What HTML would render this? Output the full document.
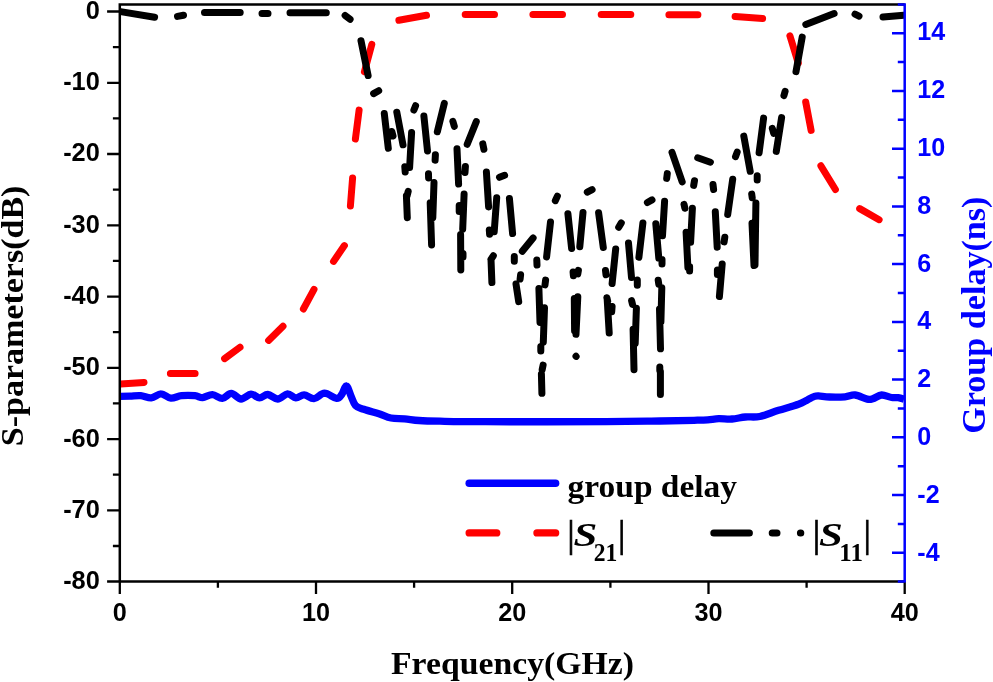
<!DOCTYPE html>
<html lang="en"><head><meta charset="utf-8"><title>S-parameters and group delay</title>
<style>html,body{margin:0;padding:0;background:#fff}svg{display:block}.ax{font-family:"Liberation Sans",Arial,sans-serif;font-weight:bold;font-size:25.2px}.ti{font-family:"Liberation Serif","Times New Roman",serif;font-weight:bold}</style></head><body>
<svg width="993" height="682" viewBox="0 0 993 682">
<rect width="993" height="682" fill="#fff"/>
<clipPath id="cp"><rect x="119.8" y="4.4" width="784.9000000000001" height="577.2"/></clipPath><g clip-path="url(#cp)">
<path d="M120.0,396.3C121.7,396.3 126.5,396.3 130.0,396.2C133.4,396.1 137.1,395.4 140.7,395.7C144.2,396.0 147.9,398.2 151.3,397.9C154.7,397.6 157.8,393.8 161.1,393.9C164.4,393.9 167.5,397.9 170.9,398.2C174.3,398.5 177.5,396.1 181.5,395.7C185.5,395.3 191.5,395.4 195.0,395.7C198.5,396.0 199.7,397.8 202.6,397.6C205.5,397.4 209.1,394.5 212.4,394.6C215.7,394.7 219.2,398.6 222.3,398.4C225.5,398.2 228.2,393.3 231.3,393.4C234.4,393.5 237.8,398.9 241.1,399.0C244.4,399.1 247.9,394.4 251.0,394.2C254.1,394.0 256.7,397.8 259.5,397.9C262.3,397.9 264.8,394.3 267.8,394.5C270.8,394.7 274.4,399.1 277.7,399.0C281.0,398.9 284.5,394.1 287.5,393.9C290.5,393.7 293.0,397.7 295.8,397.9C298.6,398.1 301.1,394.8 304.1,394.9C307.1,395.0 310.5,399.0 313.9,398.7C317.3,398.4 320.7,393.2 324.5,393.1C328.3,393.1 333.7,398.2 336.6,398.4C339.5,398.6 340.3,396.3 341.9,394.2C343.5,392.1 344.9,385.6 346.4,385.9C347.9,386.1 349.4,392.4 350.9,395.7C352.4,399.0 353.4,403.2 355.5,405.5C357.6,407.8 359.9,407.9 363.8,409.3C367.7,410.7 374.4,412.4 378.9,413.8C383.4,415.2 386.7,417.2 391.0,418.0C395.3,418.8 399.8,418.4 404.5,418.8C409.2,419.2 413.1,420.1 419.0,420.5C424.9,420.9 428.9,421.0 440.0,421.2C451.1,421.4 457.9,421.6 485.6,421.7C513.3,421.8 576.9,421.8 606.0,421.7C635.1,421.6 645.3,421.2 660.0,421.0C674.7,420.8 686.0,420.5 694.0,420.3C702.0,420.1 703.6,420.1 707.7,419.8C711.8,419.5 714.8,418.8 718.8,418.7C722.8,418.6 727.6,419.3 732.0,419.0C736.4,418.7 740.8,417.4 745.4,417.0C750.0,416.6 754.3,417.6 759.8,416.5C765.3,415.4 772.1,412.3 778.6,410.3C785.1,408.3 793.7,406.0 798.5,404.3C803.3,402.6 804.8,401.2 807.4,399.9C810.0,398.6 812.1,397.3 814.0,396.6C815.9,395.9 815.9,395.8 818.5,395.9C821.1,396.0 825.2,396.9 829.6,397.0C834.0,397.1 840.8,397.1 845.0,396.8C849.2,396.5 851.3,394.6 855.0,395.0C858.7,395.4 864.2,398.6 867.2,399.2C870.2,399.8 870.4,399.5 872.8,398.8C875.2,398.1 878.5,395.2 881.6,395.0C884.7,394.8 888.8,397.1 891.6,397.5C894.4,397.9 896.1,397.4 898.2,397.7C900.3,398.0 903.0,398.9 904.0,399.2" fill="none" stroke="#0000ff" stroke-width="7.3" stroke-linejoin="round" stroke-linecap="butt"/>
<path d="M120.5,384.0L144.0,382.4M170.4,373.6L195.1,373.6M224.6,358.6L240.0,347.2M268.6,340.4L283.0,326.2M303.4,309.0L314.0,289.3M333.5,261.4L344.4,245.6M350.4,206.1L352.6,178.0M355.4,139.0L359.1,110.1M364.4,71.8L371.8,44.3M398.9,20.3L426.5,15.3M465.2,14.6L494.5,14.6M532.9,14.6L562.5,14.6M601.2,14.6L630.8,14.6M668.9,14.8L697.9,14.8M735.1,16.5L762.6,18.6M789.9,35.8L798.3,63.1M805.7,102.0L811.1,130.4M820.9,165.8L835.4,189.5M859.7,208.6L879.1,219.7" fill="none" stroke="#ff0000" stroke-width="7.0" stroke-linecap="round"/>
<path d="M120.5,11.6L154.6,17.2M177.5,16.4L183.5,15.2M204.5,12.4L240.2,12.4M262.0,13.6L268.0,13.6M290.0,12.7L326.3,12.7M345.1,15.4L350.1,19.3M361.0,40.8L368.1,75.5M373.6,93.6L378.7,90.7M384.3,113.6L388.3,148.3M391.8,131.5L393.0,136.0M396.8,112.2L403.0,144.8M411.6,132.5L409.6,167.6M404.8,166.8L405.2,172.0M415.6,105.7L413.9,110.1M423.9,116.1L427.5,151.0M435.4,154.8L435.1,160.2M444.3,103.4L437.3,131.8M428.5,173.8L428.6,178.0M434.0,182.6L432.8,217.7M430.2,202.8L431.6,245.0M408.2,191.4L407.0,196.0M406.4,195.7L407.3,217.7M452.9,121.4L454.3,126.3M476.3,121.6L467.2,144.3M482.8,143.9L483.9,149.2M457.0,148.8L458.6,184.0M465.4,166.5L465.0,172.5M464.1,194.0L462.7,229.2M459.2,205.4L459.2,211.6M460.6,234.5L460.8,269.9M463.0,253.4L463.0,257.0M486.4,172.0L488.6,206.9M499.5,177.3L504.6,175.3M496.7,197.8L494.2,231.8M489.3,230.1L489.6,234.2M509.4,198.4L512.6,233.6M533.1,238.0L522.3,251.3M514.3,256.6L514.3,261.2M536.8,260.1L537.0,265.0M550.5,222.0L546.6,256.9M557.4,196.1L555.3,200.7M567.9,213.7L571.6,248.4M583.0,212.4L579.8,246.7M587.3,192.2L592.1,189.6M598.6,212.8L603.3,247.5M493.3,255.8L491.0,259.4M491.0,259.4L491.9,282.6M520.6,274.8L520.1,279.1M516.0,284.0L518.7,301.6M545.6,280.1L545.0,284.9M538.9,288.4L540.0,322.5M544.5,307.8L543.3,342.1M540.8,346.6L540.8,351.0M543.1,365.1L542.2,369.5M541.4,373.9L541.9,393.3M573.1,272.1L573.4,275.7M578.4,270.4L577.8,273.9M574.3,298.5L574.6,331.0M577.8,296.8L576.0,334.3M576.0,356.3L576.1,356.4M605.5,270.4L606.0,274.8M606.9,297.7L607.7,301.2M607.2,299.5L609.2,333.0M612.1,306.4L611.7,311.7M621.3,222.9L618.7,227.3M615.7,248.9L612.1,283.6M628.5,243.1L631.5,277.4M637.3,280.0L637.3,285.3M642.9,222.9L638.9,257.3M655.8,223.8L658.8,258.1M662.0,259.6L662.0,264.0M631.6,300.6L632.5,304.4M636.4,308.2L635.2,343.3M633.1,329.3L634.0,369.7M658.2,280.3L658.8,284.2M661.8,287.8L660.9,321.8M659.5,309.0L660.5,348.8M659.8,367.1L659.8,370.6M660.4,371.5L660.4,394.4M647.4,202.5L652.0,199.9M672.0,152.3L682.2,181.9M667.3,173.6L666.7,178.4M697.7,157.8L710.4,162.2M694.5,180.7L693.7,185.4M713.0,184.5L713.6,189.5M732.7,179.3L727.7,214.5M737.2,152.1L735.5,156.7M743.8,136.1L750.2,171.3M757.2,175.7L757.2,180.1M751.7,194.1L752.2,197.7M755.9,203.0L755.0,264.9M752.0,223.3L754.0,265.5M664.6,201.3L662.5,235.7M684.0,204.3L684.9,208.3M692.4,208.3L690.6,242.3M686.1,232.2L687.9,267.5M689.6,266.6L689.6,271.0M715.3,211.8L717.2,247.2M724.8,237.2L724.1,241.9M722.2,264.0L719.4,296.6M717.4,270.1L717.4,274.5M781.6,117.6L776.3,151.4M772.3,128.4L773.7,133.4M763.6,118.1L759.1,152.8M785.1,91.3L783.9,95.7M802.2,37.1L796.0,71.6M805.8,24.4L834.1,13.6M855.0,14.2L859.0,16.2M883.0,17.0L903.8,15.3" fill="none" stroke="#000000" stroke-width="7.0" stroke-linecap="round"/>
</g>
<path d="M119.8,581.6L119.8,4.4L904.7,4.4" fill="none" stroke="#000" stroke-width="2.5" stroke-linejoin="miter"/>
<path d="M107.1,581.6L904.7,581.6" fill="none" stroke="#000" stroke-width="2.5"/>
<path d="M107.1,11.5L119.8,11.5M112.9,47.1L119.8,47.1M107.1,82.8L119.8,82.8M112.9,118.4L119.8,118.4M107.1,154.0L119.8,154.0M112.9,189.7L119.8,189.7M107.1,225.3L119.8,225.3M112.9,260.9L119.8,260.9M107.1,296.6L119.8,296.6M112.9,332.2L119.8,332.2M107.1,367.8L119.8,367.8M112.9,403.4L119.8,403.4M107.1,439.1L119.8,439.1M112.9,474.7L119.8,474.7M107.1,510.3L119.8,510.3M112.9,546.0L119.8,546.0M119.8,581.6L119.8,593.9M217.9,581.6L217.9,587.8M316.0,581.6L316.0,593.9M414.1,581.6L414.1,587.8M512.2,581.6L512.2,593.9M610.4,581.6L610.4,587.8M708.5,581.6L708.5,593.9M806.6,581.6L806.6,587.8M904.7,581.6L904.7,593.9" fill="none" stroke="#000" stroke-width="2.3"/>
<path d="M904.7,3.2L904.7,582.6M897.8,581.6L904.7,581.6M892,552.7L904.7,552.7M897.8,523.9L904.7,523.9M892,495.0L904.7,495.0M897.8,466.2L904.7,466.2M892,437.3L904.7,437.3M897.8,408.4L904.7,408.4M892,379.6L904.7,379.6M897.8,350.7L904.7,350.7M892,321.9L904.7,321.9M897.8,293.0L904.7,293.0M892,264.1L904.7,264.1M897.8,235.3L904.7,235.3M892,206.4L904.7,206.4M897.8,177.6L904.7,177.6M892,148.7L904.7,148.7M897.8,119.8L904.7,119.8M892,91.0L904.7,91.0M897.8,62.1L904.7,62.1M892,33.3L904.7,33.3M897.8,4.4L904.7,4.4" fill="none" stroke="#0000ff" stroke-width="2.5"/>
<text class="ax" style="font-size:26px" transform="translate(99.8,18.9) scale(0.975,1)" text-anchor="end" fill="#000">0</text>
<text class="ax" style="font-size:26px" transform="translate(99.8,90.2) scale(0.975,1)" text-anchor="end" fill="#000">-10</text>
<text class="ax" style="font-size:26px" transform="translate(99.8,161.4) scale(0.975,1)" text-anchor="end" fill="#000">-20</text>
<text class="ax" style="font-size:26px" transform="translate(99.8,232.7) scale(0.975,1)" text-anchor="end" fill="#000">-30</text>
<text class="ax" style="font-size:26px" transform="translate(99.8,303.9) scale(0.975,1)" text-anchor="end" fill="#000">-40</text>
<text class="ax" style="font-size:26px" transform="translate(99.8,375.2) scale(0.975,1)" text-anchor="end" fill="#000">-50</text>
<text class="ax" style="font-size:26px" transform="translate(99.8,446.5) scale(0.975,1)" text-anchor="end" fill="#000">-60</text>
<text class="ax" style="font-size:26px" transform="translate(99.8,517.7) scale(0.975,1)" text-anchor="end" fill="#000">-70</text>
<text class="ax" style="font-size:26px" transform="translate(99.8,589.0) scale(0.975,1)" text-anchor="end" fill="#000">-80</text>
<text class="ax" style="font-size:26.4px" transform="translate(119.8,621.0) scale(0.955,1)" text-anchor="middle" fill="#000">0</text>
<text class="ax" style="font-size:26.4px" transform="translate(316.0,621.0) scale(0.955,1)" text-anchor="middle" fill="#000">10</text>
<text class="ax" style="font-size:26.4px" transform="translate(512.2,621.0) scale(0.955,1)" text-anchor="middle" fill="#000">20</text>
<text class="ax" style="font-size:26.4px" transform="translate(708.5,621.0) scale(0.955,1)" text-anchor="middle" fill="#000">30</text>
<text class="ax" style="font-size:26.4px" transform="translate(904.7,621.0) scale(0.955,1)" text-anchor="middle" fill="#000">40</text>
<text class="ax" style="font-size:26px" transform="translate(917.3,561.2) scale(0.965,1)" text-anchor="start" fill="#0000ff">-4</text>
<text class="ax" style="font-size:26px" transform="translate(917.3,503.3) scale(0.965,1)" text-anchor="start" fill="#0000ff">-2</text>
<text class="ax" style="font-size:26px" transform="translate(917.3,445.3) scale(0.965,1)" text-anchor="start" fill="#0000ff">0</text>
<text class="ax" style="font-size:26px" transform="translate(917.3,387.4) scale(0.965,1)" text-anchor="start" fill="#0000ff">2</text>
<text class="ax" style="font-size:26px" transform="translate(917.3,329.4) scale(0.965,1)" text-anchor="start" fill="#0000ff">4</text>
<text class="ax" style="font-size:26px" transform="translate(917.3,271.5) scale(0.965,1)" text-anchor="start" fill="#0000ff">6</text>
<text class="ax" style="font-size:26px" transform="translate(917.3,213.6) scale(0.965,1)" text-anchor="start" fill="#0000ff">8</text>
<text class="ax" style="font-size:26px" transform="translate(917.3,155.6) scale(0.965,1)" text-anchor="start" fill="#0000ff">10</text>
<text class="ax" style="font-size:26px" transform="translate(917.3,97.7) scale(0.965,1)" text-anchor="start" fill="#0000ff">12</text>
<text class="ax" style="font-size:26px" transform="translate(917.3,39.7) scale(0.965,1)" text-anchor="start" fill="#0000ff">14</text>
<text class="ti" font-size="31" x="391" y="673.6" textLength="243" lengthAdjust="spacingAndGlyphs" fill="#000">Frequency(GHz)</text>
<text class="ti" font-size="32.2" transform="translate(23.2,446.2) rotate(-90)" textLength="260.6" lengthAdjust="spacingAndGlyphs" fill="#000">S-parameters(dB)</text>
<text class="ti" font-size="33" transform="translate(985.2,433.8) rotate(-90)" textLength="237.3" lengthAdjust="spacingAndGlyphs" fill="#0000ff">Group delay(ns)</text>
<path d="M469.2,483.2L555.6,483.2" stroke="#0000ff" stroke-width="7.5" stroke-linecap="round" fill="none"/>
<path d="M469.2,532.9L496.7,532.9M537,532.9L555.6,532.9" stroke="#ff0000" stroke-width="7.4" stroke-linecap="round" fill="none"/>
<path d="M713.8,533.1L749.4,533.1M772.2,533.1L777.0,533.1M800.4,533.1L800.8,533.1" stroke="#000" stroke-width="7" stroke-linecap="round" fill="none"/>
<text class="ti" font-size="32.5" x="567.6" y="496.6" textLength="169.5" lengthAdjust="spacingAndGlyphs" fill="#000">group delay</text>
<g transform="translate(0,0)" fill="#000"><text class="ti" font-weight="normal" style="font-weight:normal" font-size="37.3" x="567.2" y="546.7" stroke="#000" stroke-width="0.7">|</text><text class="ti" font-style="italic" font-size="33.7" x="573.6" y="546.3" textLength="23.8" lengthAdjust="spacingAndGlyphs">S</text><text class="ti" font-size="24.6" x="593.8" y="560.6" textLength="23.6" lengthAdjust="spacingAndGlyphs">21</text><text class="ti" font-weight="normal" style="font-weight:normal" font-size="37.3" x="617.9" y="546.7" stroke="#000" stroke-width="0.7">|</text></g>
<g transform="translate(245.5,0)" fill="#000"><text class="ti" font-weight="normal" style="font-weight:normal" font-size="37.3" x="567.2" y="546.7" stroke="#000" stroke-width="0.7">|</text><text class="ti" font-style="italic" font-size="33.7" x="573.6" y="546.3" textLength="23.8" lengthAdjust="spacingAndGlyphs">S</text><text class="ti" font-size="24.6" x="593.8" y="560.6" textLength="23.6" lengthAdjust="spacingAndGlyphs">11</text><text class="ti" font-weight="normal" style="font-weight:normal" font-size="37.3" x="617.9" y="546.7" stroke="#000" stroke-width="0.7">|</text></g>
</svg></body></html>
